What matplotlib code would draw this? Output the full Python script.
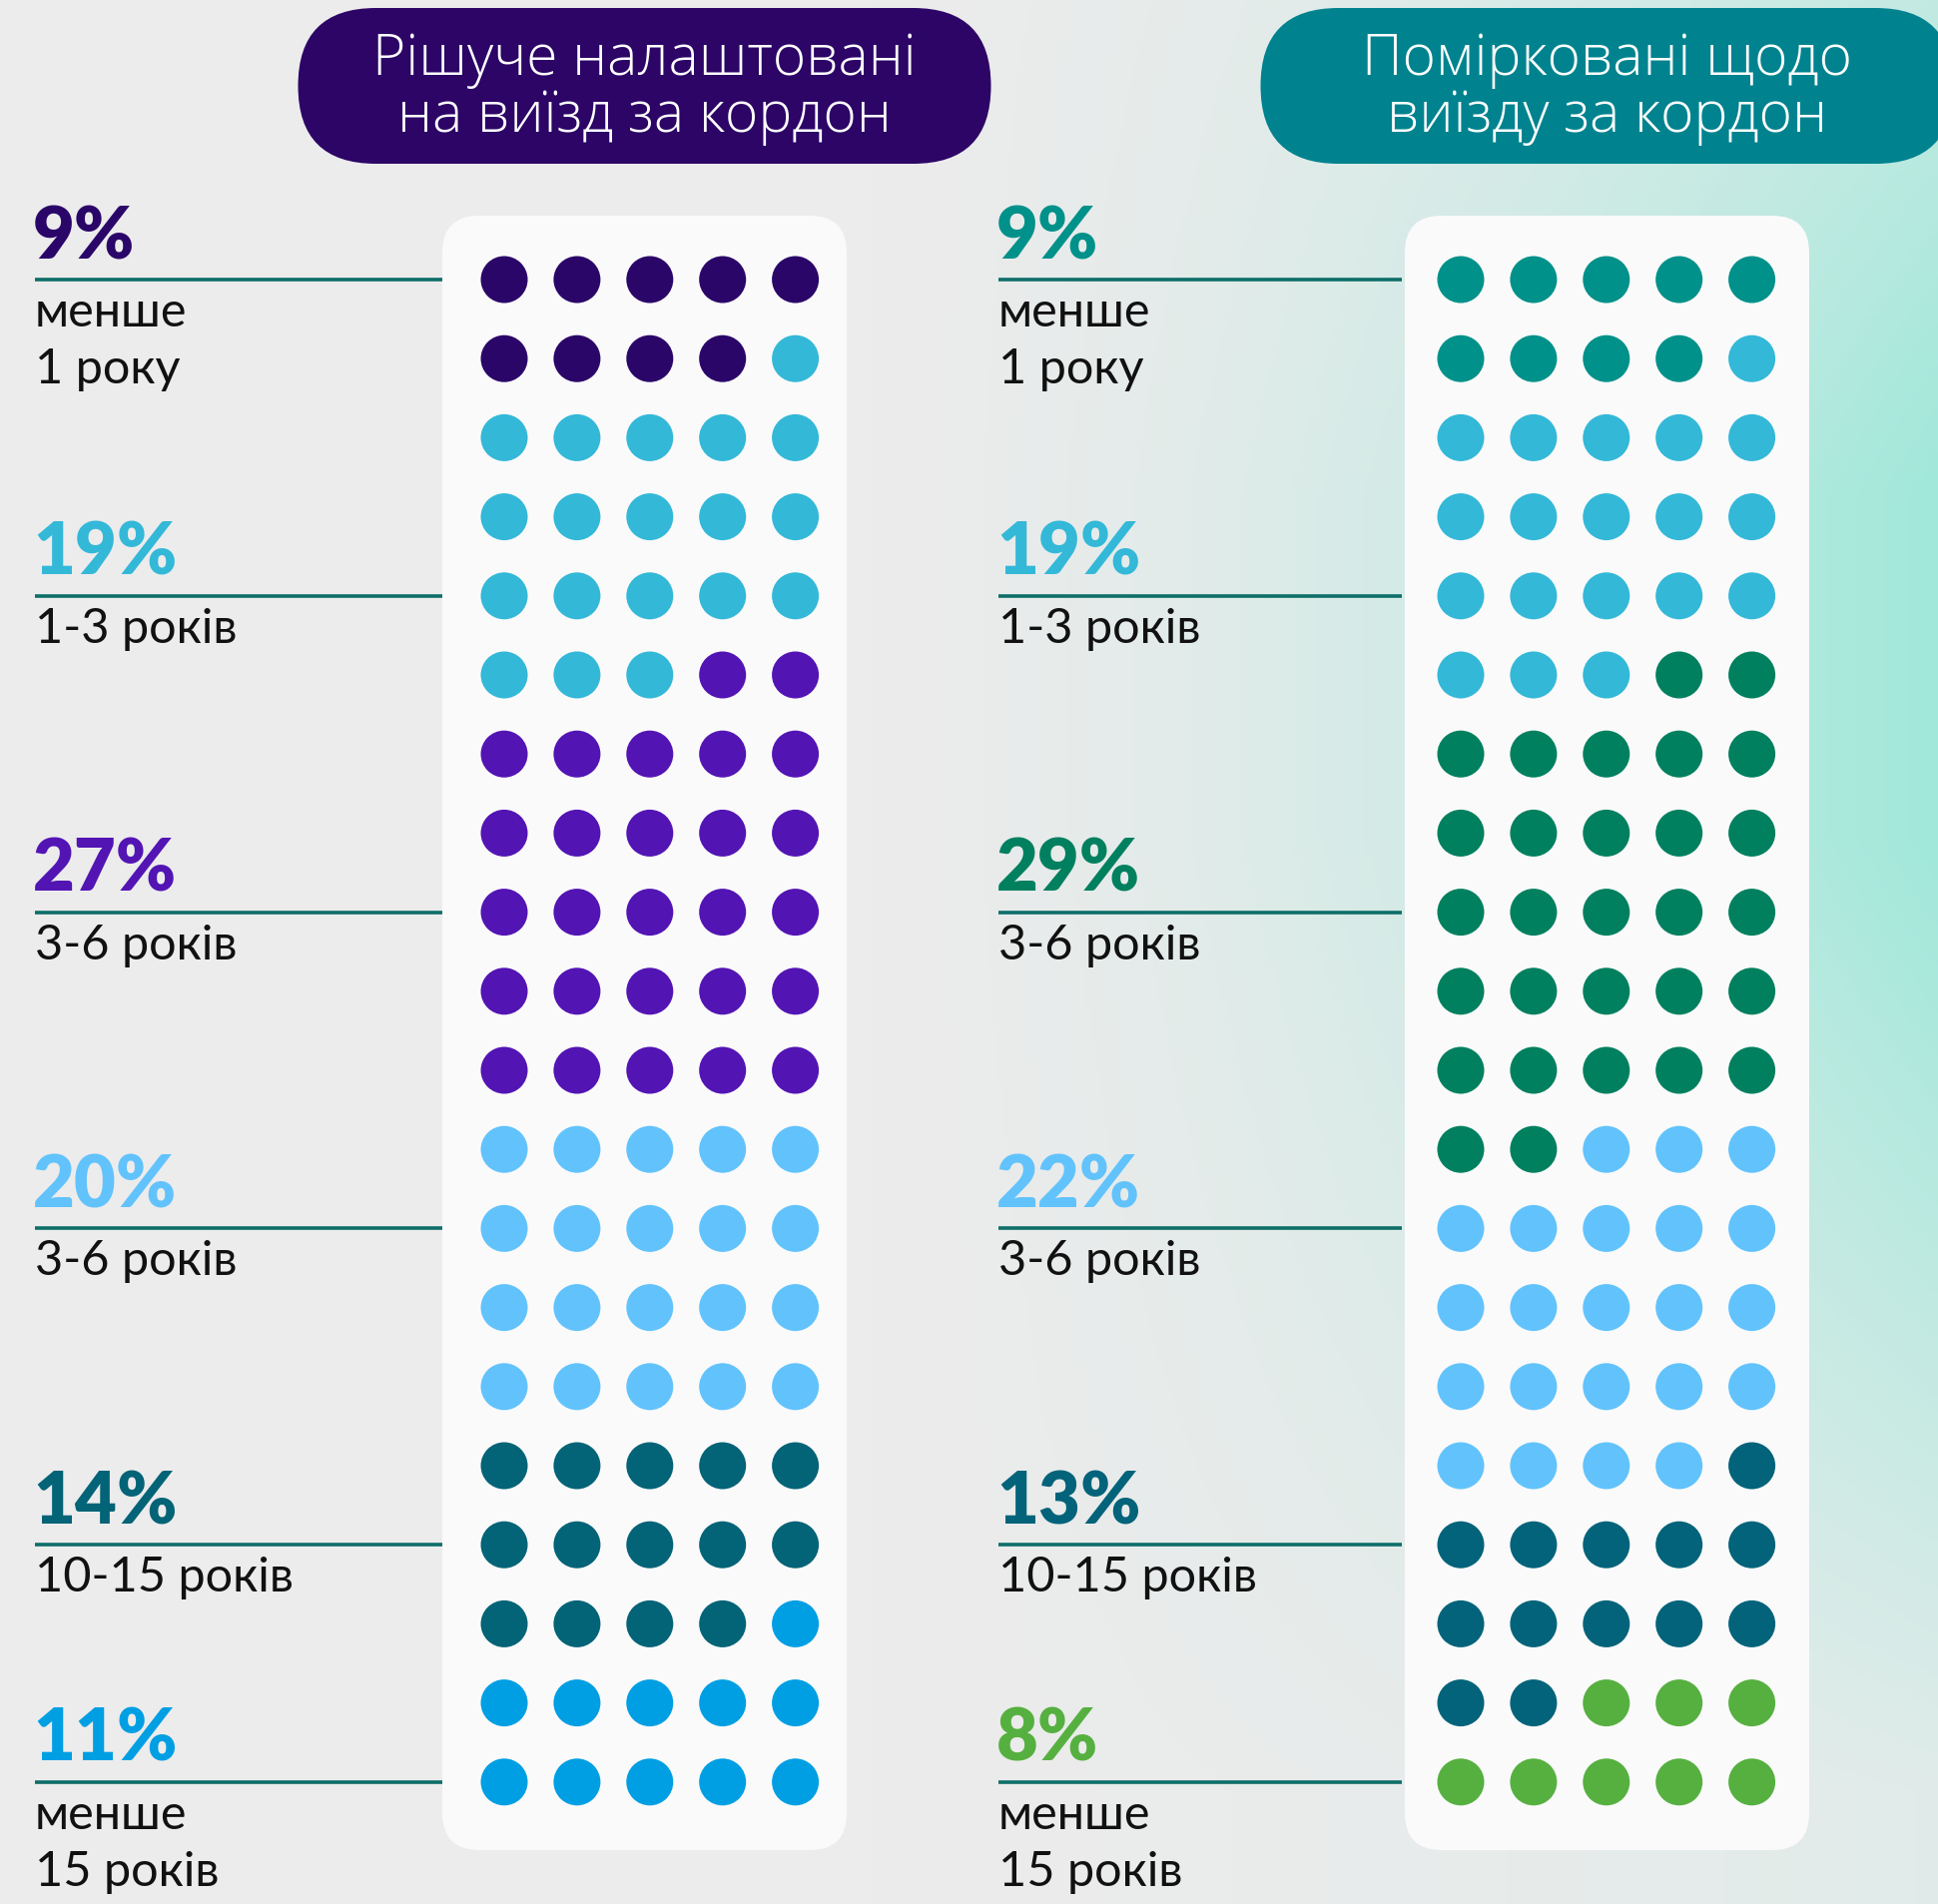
import matplotlib
matplotlib.use("Agg")
import matplotlib.pyplot as plt
import numpy as np
from matplotlib.patches import FancyBboxPatch, Circle

# dots per duration group, 5 x 20 grid = 100 people
left_title = "Рішуче налаштовані\nна виїзд за кордон"
right_title = "Поміркованi щодо\nвиїзду за кордон"

left_values = [9, 19, 27, 20, 14, 11]
right_values = [9, 19, 29, 22, 13, 8]

groups = ["менше\n1 року", "1-3 років", "3-6 років", "3-6 років", "10-15 років", "менше\n15 років"]

left_colors = ["#2B0669", "#33B8D8", "#5314B4", "#62C3FC", "#036377", "#009FE3"]
right_colors = ["#00918A", "#33B8D8", "#01805F", "#62C3FC", "#02637A", "#56B040"]

# grid row where each group's divider line sits
line_rows = [0, 4, 8, 12, 16, 19]

W, H = 1941, 1908
fig = plt.figure(figsize=(W / 100, H / 100), dpi=100)
ax = fig.add_axes([0, 0, 1, 1])
ax.set_xlim(0, W)
ax.set_ylim(H, 0)
ax.axis("off")

# background: light grey fading into mint on the right
xx, yy = np.meshgrid(np.linspace(0, 1, 400), np.linspace(0, 1, 400))
wx = np.clip((xx - 0.45) / 0.55, 0, 1) ** 1.6
wy = np.clip(1.15 - 1.1 * np.abs(yy - 0.35) / 0.65, 0.15, 1)
w = (wx * wy)[..., None]
grey = np.array([236, 236, 236]) / 255
mint = np.array([160, 232, 218]) / 255
bg = grey * (1 - w) + mint * w
ax.imshow(bg, extent=[0, W, H, 0], zorder=0, aspect="auto")

row0, row_step = 281, 79.2
col_step = 72.9
ncols = 5

def panel(x0, values, colors, title, title_color, label_x, line_x1, shift=0):
    # white card behind the dots
    left = x0 - 62 + shift
    card = FancyBboxPatch((left + 37, 217 + 37), 405 - 74, 1637 - 74,
                          boxstyle="round,pad=37", fc="#FAFAFA", ec="none", zorder=1)
    ax.add_patch(card)
    cx = left + 202.5
    # header pill
    pill = FancyBboxPatch((cx - 347 + 78, 9 + 78), 694 - 156, 0,
                          boxstyle="round,pad=78", fc=title_color, ec="none", zorder=2)
    ax.add_patch(pill)
    ax.text(cx, 89, title, ha="center", va="center", color="white", fontsize=41,
            family="Open Sans", fontweight="light", linespacing=1.0, zorder=3)

    idx = 0
    for v, c in zip(values, colors):
        for k in range(v):
            r, col = divmod(idx, ncols)
            ax.add_patch(Circle((x0 + col * col_step, row0 + r * row_step), 23.5,
                                fc=c, ec="none", zorder=2))
            idx += 1

    for v, c, lr, g in zip(values, colors, line_rows, groups):
        ly = row0 + lr * row_step
        ax.plot([label_x, line_x1], [ly, ly], color="#0E6E68", lw=2.6,
                solid_capstyle="butt", zorder=2)
        ax.text(label_x - 2, ly - 22, f"{v}%", color=c, fontsize=52, fontweight="heavy",
                family="Lato", ha="left", va="baseline", zorder=3)
        for i, part in enumerate(g.split("\n")):
            ax.text(label_x, ly + 46 + i * 57, part, color="#111111", fontsize=35,
                    family="Lato", ha="left", va="baseline", zorder=3)

panel(505, left_values, left_colors, left_title, "#2C0566", 35, 443)
panel(1463, right_values, right_colors, right_title, "#00838F", 1000, 1404, shift=6)

fig.savefig("out.png", dpi=100)
